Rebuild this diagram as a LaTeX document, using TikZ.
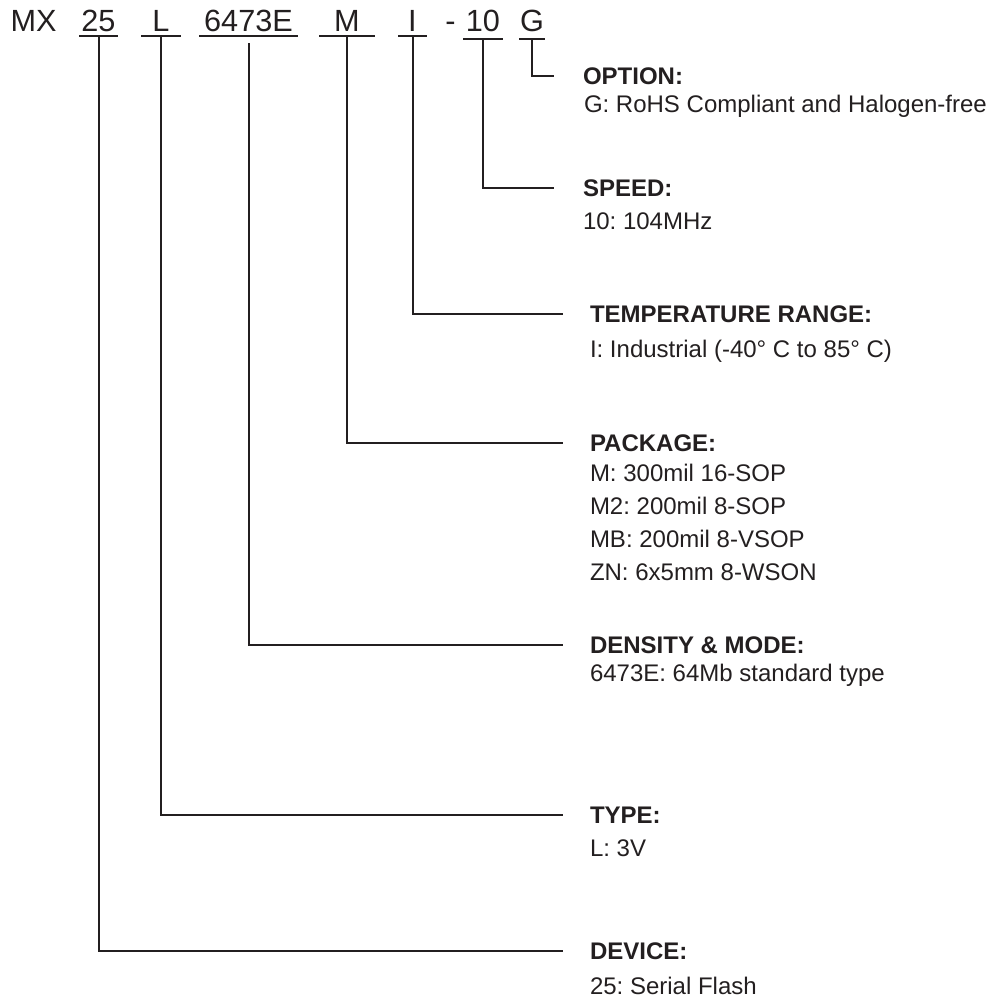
\documentclass[tikz,border=0pt]{standalone}
\usepackage{fontspec}
\setmainfont{Liberation Sans}
\usetikzlibrary{positioning}
\definecolor{ink}{RGB}{35,31,32}
\frenchspacing
\begin{document}
\begin{tikzpicture}[x=0.75pt, y=-0.75pt, line width=1.5pt, draw=ink, text=ink,
  part/.style={font=\fontsize{23}{27}\selectfont, anchor=base, inner xsep=0pt, inner ysep=2.25pt},
  head/.style={font=\bfseries\fontsize{18}{22}\selectfont, anchor=west, inner sep=0pt},
  body/.style={font=\fontsize{18}{24.75}\selectfont, anchor=north west, inner sep=0pt, align=left}]
\useasboundingbox (0,0) rectangle (1007,998);

% part number
\node[part] (mx) at (33.5,32) {MX};
\node[part, minimum width=27.75pt] (dev) at (98.5,32) {25};
\node[part, minimum width=28.5pt] (typ) at (161,32) {L};
\node[part, minimum width=72.75pt] (den) at (248.5,32) {6473E};
\node[part, minimum width=40.5pt] (pkg) at (347,32) {M};
\node[part, minimum width=20.25pt] (tmp) at (412.5,32) {I};
\node[part] (dash) at (450.5,32) {-};
\node[part, minimum width=28.5pt, inner ysep=4.5pt] (spd) at (483,32) {10};
\node[part, minimum width=18pt, inner ysep=4.5pt] (opt) at (532,32) {G};

\foreach \p in {dev,typ,den,pkg,tmp,spd,opt}
  \draw (\p.south west) -- (\p.south east);

% descriptions
\node[head] (opth) at (582,76) {OPTION:};
\node[body] at (583,94) {G: RoHS Compliant and Halogen-free};
\node[head] (spdh) at (582,188) {SPEED:};
\node[body] at (582,212) {10: 104MHz};
\node[head] (tmph) at (589,314) {TEMPERATURE RANGE:};
\node[body] at (589,339) {I: Industrial (-40° C to 85° C)};
\node[head] (pkgh) at (589,443) {PACKAGE:};
\node[body] at (589,463) {M: 300mil 16-SOP\\M2: 200mil 8-SOP\\MB: 200mil 8-VSOP\\ZN: 6x5mm 8-WSON};
\node[head] (denh) at (589,645) {DENSITY \& MODE:};
\node[body] at (589,663) {6473E: 64Mb standard type};
\node[head] (typh) at (589,815) {TYPE:};
\node[body] at (589,839) {L: 3V};
\node[head] (devh) at (589,951) {DEVICE:};
\node[body] at (589,976) {25: Serial Flash};

% leaders
\draw (opt.south) |- ([xshift=-21pt]opth.west);
\draw (spd.south) |- ([xshift=-21pt]spdh.west);
\draw (tmp.south) |- ([xshift=-19.5pt]tmph.west);
\draw (pkg.south) |- ([xshift=-19.5pt]pkgh.west);
\draw ([yshift=-5.25pt]den.south) |- ([xshift=-19.5pt]denh.west);
\draw (typ.south) |- ([xshift=-19.5pt]typh.west);
\draw (dev.south) |- ([xshift=-19.5pt]devh.west);
\end{tikzpicture}
\end{document}
